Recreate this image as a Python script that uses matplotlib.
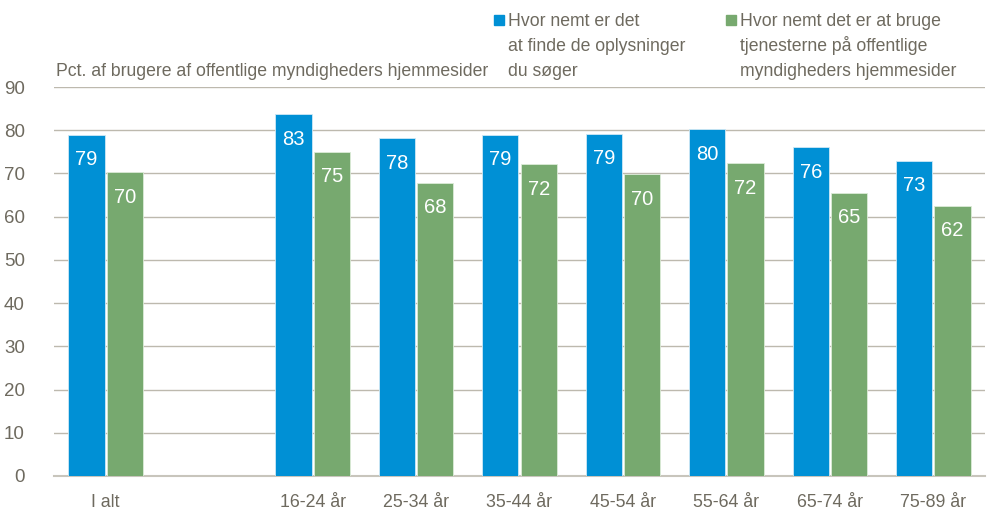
import numpy as np
import matplotlib
matplotlib.use("Agg")
import matplotlib.pyplot as plt
from matplotlib.patches import Rectangle

plt.rcParams['font.family'] = ['Liberation Sans', 'DejaVu Sans']

# data
categories = ['I alt', '', '16-24 år', '25-34 år', '35-44 år', '45-54 år', '55-64 år', '65-74 år', '75-89 år']
finde = [79, np.nan, 83.7, 78.2, 78.9, 79.2, 80.2, 76.1, 72.9]
bruge = [70.3, np.nan, 75, 67.8, 72.1, 69.8, 72.4, 65.5, 62.5]
finde_lbl = ['79', '', '83', '78', '79', '79', '80', '76', '73']
bruge_lbl = ['70', '', '75', '68', '72', '70', '72', '65', '62']
series_names = [['Hvor nemt er det', 'at finde de oplysninger', 'du søger'],
                ['Hvor nemt det er at bruge', 'tjenesterne på offentlige', 'myndigheders hjemmesider']]
yticks = list(range(0, 100, 10))

blue = '#0090D5'
green = '#77A96F'
txtcol = '#6E6A5F'
gridcol = '#BDB9AE'

fig = plt.figure(figsize=(9.9, 5.15), dpi=100)
ax = fig.add_axes([54/990, 39/515, 931/990, 389/515])

x = np.arange(len(categories))
w = 0.35
b1 = ax.bar(x - w/2 - 0.01, finde, w, color=blue, edgecolor='#CFE8F5', linewidth=0.6, zorder=3)
b2 = ax.bar(x + w/2 + 0.01, bruge, w, color=green, edgecolor='#DCEBD8', linewidth=0.6, zorder=3)

for bars, lbls in [(b1, finde_lbl), (b2, bruge_lbl)]:
    for rect, l in zip(bars, lbls):
        if l == '':
            continue
        ax.annotate(l, (rect.get_x() + rect.get_width()/2, rect.get_height()),
                    xytext=(0, -18), textcoords='offset points', ha='center', va='center',
                    color='white', fontsize=14.5, zorder=4)

ax.set_xlim(-0.5, len(categories) - 0.5)
ax.set_ylim(0, 90)
ax.set_yticks(yticks)
ax.set_xticks(x)
ax.set_xticklabels(categories)
ax.yaxis.grid(True, color=gridcol, linewidth=1.0, zorder=0)
ax.tick_params(axis='both', length=0, colors=txtcol)
ax.tick_params(axis='y', pad=21, labelsize=13.5)
ax.tick_params(axis='x', pad=13, labelsize=12.8)
for s in ['top', 'right', 'left']:
    ax.spines[s].set_visible(False)
ax.spines['bottom'].set_color('#C8C5BC')
ax.spines['bottom'].set_linewidth(1.5)

fig.text(56/990, 1 - 71/515, 'Pct. af brugere af offentlige myndigheders hjemmesider',
         fontsize=12.7, color=txtcol, va='center', ha='left')

# legend built by hand, one text per line so both columns line up
for xs, col, lines in [(494, blue, series_names[0]), (726, green, series_names[1])]:
    fig.add_artist(Rectangle((xs/990, 1 - 25/515), 10/990, 10/515, color=col,
                             transform=fig.transFigure))
    for i, line in enumerate(lines):
        fig.text((xs + 14)/990, 1 - (26 + 25*i)/515, line, fontsize=12.7, color=txtcol,
                 va='baseline', ha='left')

fig.savefig('out.png', dpi=100)
